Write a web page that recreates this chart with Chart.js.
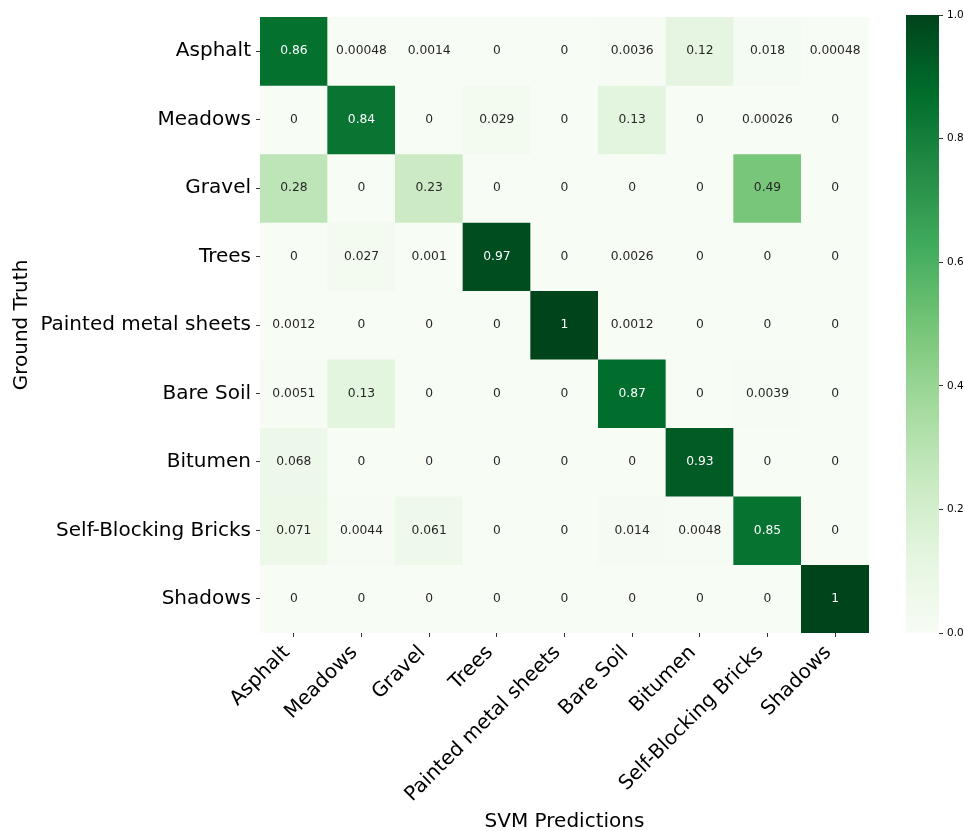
<!DOCTYPE html>
<html>
<head>
<meta charset="utf-8">
<script src="https://cdn.jsdelivr.net/npm/chart.js@4"></script>
<style>
  body { margin: 0; background: #fff; }
  #wrap { position: relative; width: 964px; height: 831px; }
  #heat { position: absolute; left: 0; top: 0; }
  #cbar { position: absolute; left: 880px; top: 0; }
</style>
</head>
<body>
<div id="wrap">
  <canvas id="heat" width="964" height="831"></canvas>
  <canvas id="cbar" width="84" height="831"></canvas>
</div>
<script>
// class names (rows = ground truth, columns = predictions)
var classes = ['Asphalt', 'Meadows', 'Gravel', 'Trees', 'Painted metal sheets',
  'Bare Soil', 'Bitumen', 'Self-Blocking Bricks', 'Shadows'];

// confusion matrix rows, normalised per ground truth class
var asphaltRow   = [0.86, 0.00048, 0.0014, 0, 0, 0.0036, 0.12, 0.018, 0.00048];
var meadowsRow   = [0, 0.84, 0, 0.029, 0, 0.13, 0, 0.00026, 0];
var gravelRow    = [0.28, 0, 0.23, 0, 0, 0, 0, 0.49, 0];
var treesRow     = [0, 0.027, 0.001, 0.97, 0, 0.0026, 0, 0, 0];
var paintedRow   = [0.0012, 0, 0, 0, 1, 0.0012, 0, 0, 0];
var bareSoilRow  = [0.0051, 0.13, 0, 0, 0, 0.87, 0, 0.0039, 0];
var bitumenRow   = [0.068, 0, 0, 0, 0, 0, 0.93, 0, 0];
var bricksRow    = [0.071, 0.0044, 0.061, 0, 0, 0.014, 0.0048, 0.85, 0];
var shadowsRow   = [0, 0, 0, 0, 0, 0, 0, 0, 1];
var matrix = [asphaltRow, meadowsRow, gravelRow, treesRow, paintedRow,
  bareSoilRow, bitumenRow, bricksRow, shadowsRow];

var colorbarTicks = [0, 0.2, 0.4, 0.6, 0.8, 1.0];

// matplotlib "Greens"
var greens = ['#f7fcf5', '#e5f5e0', '#c7e9c0', '#a1d99b', '#74c476',
  '#41ab5d', '#238b45', '#006d2c', '#00441b'];

var FONT = "'DejaVu Sans', sans-serif";

function hexRgb(h) {
  return [parseInt(h.substr(1, 2), 16), parseInt(h.substr(3, 2), 16), parseInt(h.substr(5, 2), 16)];
}
function greenRgb(v) {
  v = Math.max(0, Math.min(1, v));
  var p = v * (greens.length - 1);
  var i = Math.min(Math.floor(p), greens.length - 2);
  var t = p - i;
  var a = hexRgb(greens[i]), b = hexRgb(greens[i + 1]);
  return [0, 1, 2].map(function(k) { return Math.round(a[k] + (b[k] - a[k]) * t); });
}
function greenCss(v) {
  var c = greenRgb(v);
  return 'rgb(' + c[0] + ',' + c[1] + ',' + c[2] + ')';
}
function textColor(v) {
  var c = greenRgb(v).map(function(x) {
    x = x / 255;
    return x <= 0.03928 ? x / 12.92 : Math.pow((x + 0.055) / 1.055, 2.4);
  });
  var lum = 0.2126 * c[0] + 0.7152 * c[1] + 0.0722 * c[2];
  return lum > 0.408 ? '#262626' : '#ffffff';
}
function fmt(v) {
  return String(Number(v.toPrecision(2)));
}

// one floating-bar dataset per ground truth row
var datasets = matrix.map(function(row, r) {
  return {
    label: classes[r],
    data: row.map(function() { return [r, r + 1]; }),
    backgroundColor: row.map(greenCss),
    borderWidth: 0,
    barPercentage: 1,
    categoryPercentage: 1,
    grouped: false
  };
});

var cellText = {
  id: 'cellText',
  afterDatasetsDraw: function(chart) {
    var ctx = chart.ctx, xs = chart.scales.x, ys = chart.scales.y;
    ctx.save();
    ctx.font = '12.3px ' + FONT;
    ctx.textAlign = 'center';
    ctx.textBaseline = 'middle';
    matrix.forEach(function(row, r) {
      row.forEach(function(v, c) {
        ctx.fillStyle = textColor(v);
        ctx.fillText(fmt(v), xs.getPixelForValue(c), ys.getPixelForValue(r + 0.5));
      });
    });
    ctx.restore();
  }
};

new Chart(document.getElementById('heat'), {
  type: 'bar',
  data: { labels: classes, datasets: datasets },
  plugins: [cellText],
  options: {
    responsive: false,
    animation: false,
    events: [],
    layout: { padding: { left: 0, top: 15, right: 95, bottom: 0 } },
    plugins: { legend: { display: false }, tooltip: { enabled: false } },
    scales: {
      x: {
        type: 'category',
        offset: true,
        border: { display: false },
        grid: { offset: false, drawOnChartArea: false, drawTicks: true, tickLength: 4, color: '#333' },
        ticks: { color: '#000', font: { family: FONT, size: 20 }, maxRotation: 45, minRotation: 45,
          autoSkip: false, padding: 4, labelOffset: -7 },
        title: { display: true, text: 'SVM Predictions', color: '#000',
          font: { family: FONT, size: 20 }, padding: { top: 0, bottom: -3 } },
        afterFit: function(s) { s.height = 198; }
      },
      y: {
        type: 'linear',
        reverse: true,
        min: 0,
        max: 9,
        border: { display: false },
        grid: { drawOnChartArea: false, drawTicks: true, tickLength: 4, color: '#333' },
        afterBuildTicks: function(s) {
          s.ticks = classes.map(function(_, i) { return { value: i + 0.5 }; });
        },
        ticks: {
          color: '#000', font: { family: FONT, size: 20 }, padding: 5, autoSkip: false,
          callback: function(value, index) { return classes[index]; }
        },
        title: { display: true, text: 'Ground Truth', color: '#000',
          font: { family: FONT, size: 20 }, padding: { top: 10, bottom: 0 } },
        afterFit: function(s) { s.width = 260; }
      }
    }
  }
});

// colour bar
new Chart(document.getElementById('cbar'), {
  type: 'bar',
  data: {
    labels: ['scale'],
    datasets: [{
      data: [[0, 1]],
      borderWidth: 0,
      barPercentage: 1,
      categoryPercentage: 1,
      backgroundColor: function(c) {
        var area = c.chart.chartArea;
        if (!area) return greens[4];
        var g = c.chart.ctx.createLinearGradient(0, area.bottom, 0, area.top);
        greens.forEach(function(col, i) { g.addColorStop(i / (greens.length - 1), col); });
        return g;
      }
    }]
  },
  options: {
    responsive: false,
    animation: false,
    events: [],
    layout: { padding: { left: 26, top: 15, right: 0, bottom: 198 } },
    plugins: { legend: { display: false }, tooltip: { enabled: false } },
    scales: {
      x: { display: false, offset: true },
      y: {
        position: 'right',
        min: 0,
        max: 1,
        border: { display: false },
        grid: { drawOnChartArea: false, drawTicks: true, tickLength: 4, color: '#333' },
        afterBuildTicks: function(s) {
          s.ticks = colorbarTicks.map(function(v) { return { value: v }; });
        },
        ticks: {
          color: '#000', font: { family: FONT, size: 10.5 }, padding: 4,
          callback: function(value) { return value.toFixed(1); }
        },
        afterFit: function(s) { s.width = 25; }
      }
    }
  }
});
</script>
</body>
</html>
